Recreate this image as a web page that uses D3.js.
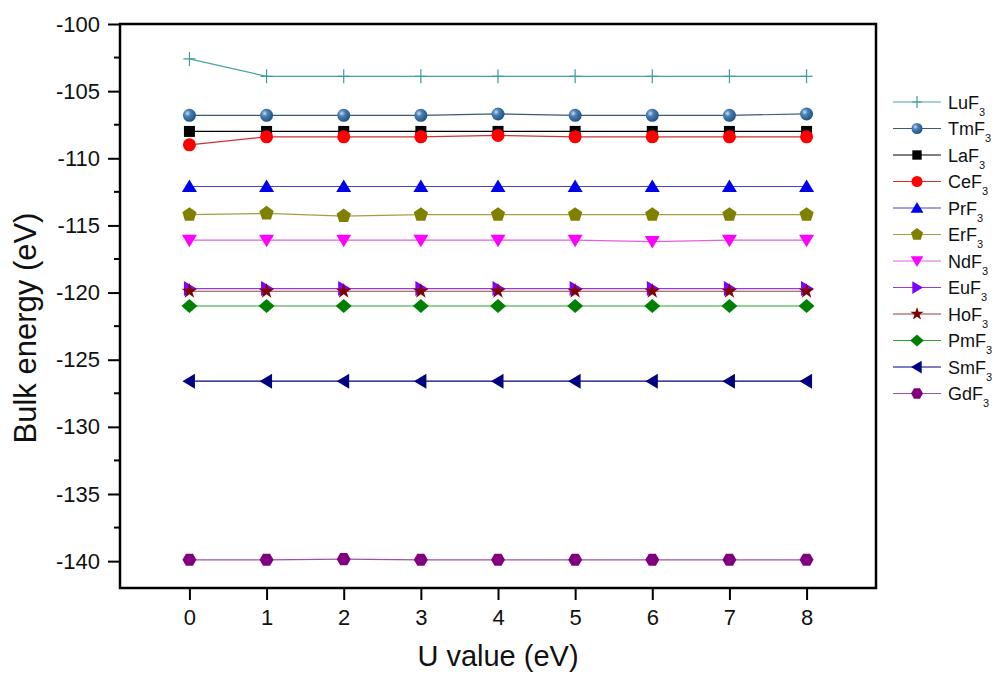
<!DOCTYPE html>
<html>
<head>
<meta charset="utf-8">
<script src="https://cdn.jsdelivr.net/npm/d3@7"></script>
<style>
  body { margin: 0; background: #fff; }
  svg text { font-family: "Liberation Sans", Arial, sans-serif; fill: #111; }
</style>
</head>
<body>
<div id="chart"></div>
<script>
// U values (x axis)
const uValues = [0, 1, 2, 3, 4, 5, 6, 7, 8];

// bulk energies (eV) per compound
const luF3 = [-102.6, -103.9, -103.9, -103.9, -103.9, -103.9, -103.9, -103.9, -103.9];
const tmF3 = [-106.8, -106.8, -106.8, -106.8, -106.7, -106.8, -106.8, -106.8, -106.7];
const laF3 = [-108.0, -108.0, -108.0, -108.0, -108.0, -108.0, -108.0, -108.0, -108.0];
const ceF3 = [-109.0, -108.4, -108.4, -108.4, -108.3, -108.4, -108.4, -108.4, -108.4];
const prF3 = [-112.1, -112.1, -112.1, -112.1, -112.1, -112.1, -112.1, -112.1, -112.1];
const erF3 = [-114.2, -114.1, -114.3, -114.2, -114.2, -114.2, -114.2, -114.2, -114.2];
const ndF3 = [-116.1, -116.1, -116.1, -116.1, -116.1, -116.1, -116.2, -116.1, -116.1];
const euF3 = [-119.7, -119.7, -119.7, -119.7, -119.7, -119.7, -119.7, -119.7, -119.7];
const hoF3 = [-119.9, -119.9, -119.9, -119.9, -119.9, -119.9, -119.9, -119.9, -119.9];
const pmF3 = [-121.0, -121.0, -121.0, -121.0, -121.0, -121.0, -121.0, -121.0, -121.0];
const smF3 = [-126.6, -126.6, -126.6, -126.6, -126.6, -126.6, -126.6, -126.6, -126.6];
const gdF3 = [-139.9, -139.9, -139.85, -139.9, -139.9, -139.9, -139.9, -139.9, -139.9];

const yTicks = [-140, -135, -130, -125, -120, -115, -110, -105, -100];
const yMinorTicks = [-137.5, -132.5, -127.5, -122.5, -117.5, -112.5, -107.5, -102.5];
const xTicks = [0, 1, 2, 3, 4, 5, 6, 7, 8];

// series order = legend order
const series = [
  { name: 'Lu', values: luF3, marker: 'plus',     fill: '#3f9c9c', line: '#4aa3a3' },
  { name: 'Tm', values: tmF3, marker: 'sphere',   fill: '#33669c', line: '#3d5a75' },
  { name: 'La', values: laF3, marker: 'square',   fill: '#000000', line: '#000000' },
  { name: 'Ce', values: ceF3, marker: 'circle',   fill: '#ff0000', line: '#d03030' },
  { name: 'Pr', values: prF3, marker: 'triUp',    fill: '#0000ee', line: '#4444c0' },
  { name: 'Er', values: erF3, marker: 'pentagon', fill: '#808000', line: '#a0a040' },
  { name: 'Nd', values: ndF3, marker: 'triDown',  fill: '#ff00ff', line: '#e060e0' },
  { name: 'Eu', values: euF3, marker: 'triRight', fill: '#8000ff', line: '#9040d0' },
  { name: 'Ho', values: hoF3, marker: 'star',     fill: '#800000', line: '#904040' },
  { name: 'Pm', values: pmF3, marker: 'diamond',  fill: '#008000', line: '#30a030' },
  { name: 'Sm', values: smF3, marker: 'triLeft',  fill: '#000080', line: '#000080' },
  { name: 'Gd', values: gdF3, marker: 'hexagon',  fill: '#800080', line: '#a050a0' }
];

const width = 996, height = 675;
const plot = { left: 120, top: 24, right: 876, bottom: 588 };

const svg = d3.select('#chart').append('svg')
  .attr('width', width)
  .attr('height', height);

const defs = svg.append('defs');
const grad = defs.append('radialGradient')
  .attr('id', 'sphereGrad')
  .attr('cx', '0.35').attr('cy', '0.35').attr('r', '0.7');
grad.append('stop').attr('offset', '0%').attr('stop-color', '#c8dcf0');
grad.append('stop').attr('offset', '35%').attr('stop-color', '#4a7fb5');
grad.append('stop').attr('offset', '100%').attr('stop-color', '#1f4f80');

const x = d3.scaleLinear().domain([-0.9, 8.9]).range([plot.left, plot.right]);
const y = d3.scaleLinear().domain([-142, -100]).range([plot.bottom, plot.top]);

// regular polygon path centred on 0,0
function polygon(n, r, rot) {
  const pts = d3.range(n).map(i => {
    const a = rot + i * 2 * Math.PI / n;
    return [r * Math.cos(a), r * Math.sin(a)];
  });
  return 'M' + pts.map(p => p[0].toFixed(2) + ',' + p[1].toFixed(2)).join('L') + 'Z';
}

function markerPath(kind, s) {
  switch (kind) {
    case 'square':   return `M${-5.5*s},${-5.5*s}h${11*s}v${11*s}h${-11*s}Z`;
    case 'triUp':    return `M0,${-7*s}L${7.5*s},${5.5*s}L${-7.5*s},${5.5*s}Z`;
    case 'triDown':  return `M0,${7*s}L${7.5*s},${-5.5*s}L${-7.5*s},${-5.5*s}Z`;
    case 'triRight': return `M${7*s},0L${-5.5*s},${7.5*s}L${-5.5*s},${-7.5*s}Z`;
    case 'triLeft':  return `M${-7*s},0L${5.5*s},${7.5*s}L${5.5*s},${-7.5*s}Z`;
    case 'diamond':  return `M0,${-7*s}L${8*s},0L0,${7*s}L${-8*s},0Z`;
    case 'pentagon': return polygon(5, 7.5 * s, -Math.PI / 2);
    case 'hexagon':  return polygon(6, 7 * s, 0);
    case 'star':     return d3.symbol().type(d3.symbolStar).size(75 * s * s)();
    case 'plus':     return `M${-6*s},0H${6*s}M0,${-7*s}V${7*s}`;
  }
  return '';
}

function drawMarker(g, d, s) {
  if (d.marker === 'circle' || d.marker === 'sphere') {
    g.append('circle')
      .attr('r', 6.5 * s)
      .attr('fill', d.marker === 'sphere' ? 'url(#sphereGrad)' : d.fill);
  } else if (d.marker === 'plus') {
    g.append('path')
      .attr('d', markerPath('plus', s))
      .attr('fill', 'none')
      .attr('stroke', d.fill)
      .attr('stroke-width', 1.2);
  } else {
    g.append('path')
      .attr('d', markerPath(d.marker, s))
      .attr('fill', d.fill);
  }
}

// axes (plain hyphen for negatives, like the original)
const yAxis = d3.axisLeft(y).tickValues(yTicks).tickSize(12).tickPadding(8)
  .tickFormat(d => String(d));
const xAxis = d3.axisBottom(x).tickValues(xTicks).tickSize(12).tickPadding(9);

const gy = svg.append('g')
  .attr('transform', `translate(${plot.left},0)`)
  .call(yAxis);
const gx = svg.append('g')
  .attr('transform', `translate(0,${plot.bottom})`)
  .call(xAxis);

[gx, gy].forEach(g => {
  g.select('.domain').remove();
  g.selectAll('.tick line').attr('stroke', '#000').attr('stroke-width', 2);
  g.selectAll('.tick text').attr('font-size', 22).attr('fill', '#111');
});

// minor y ticks
svg.append('g').selectAll('line')
  .data(yMinorTicks)
  .enter().append('line')
  .attr('x1', plot.left - 6).attr('x2', plot.left)
  .attr('y1', d => y(d)).attr('y2', d => y(d))
  .attr('stroke', '#000').attr('stroke-width', 2);

// frame
svg.append('rect')
  .attr('x', plot.left).attr('y', plot.top)
  .attr('width', plot.right - plot.left)
  .attr('height', plot.bottom - plot.top)
  .attr('fill', 'none')
  .attr('stroke', '#000')
  .attr('stroke-width', 2.5);

// series
const line = d3.line()
  .x((v, i) => x(uValues[i]))
  .y(v => y(v));

series.forEach(s => {
  svg.append('path')
    .datum(s.values)
    .attr('d', line)
    .attr('fill', 'none')
    .attr('stroke', s.line)
    .attr('stroke-width', 1.2);
});

series.forEach(s => {
  s.values.forEach((v, i) => {
    const g = svg.append('g')
      .attr('transform', `translate(${x(uValues[i])},${y(v)})`);
    drawMarker(g, s, 1);
  });
});

// legend
const legend = svg.append('g');
series.forEach((s, i) => {
  const ly = 102 + i * 26.5;
  const g = legend.append('g').attr('transform', `translate(0,${ly})`);
  g.append('line')
    .attr('x1', 893).attr('x2', 941)
    .attr('y1', 0).attr('y2', 0)
    .attr('stroke', s.line).attr('stroke-width', 1.2);
  const m = g.append('g').attr('transform', 'translate(917,0)');
  drawMarker(m, s, 0.85);
  const t = g.append('text')
    .attr('x', 948).attr('y', 6.5)
    .attr('font-size', 18);
  t.append('tspan').text(s.name + 'F');
  t.append('tspan').attr('font-size', 11).attr('dy', 7).text('3');
});

// axis titles
svg.append('text')
  .attr('x', (plot.left + plot.right) / 2)
  .attr('y', 666)
  .attr('text-anchor', 'middle')
  .attr('font-size', 29)
  .text('U value (eV)');

svg.append('text')
  .attr('transform', 'translate(36,328) rotate(-90)')
  .attr('text-anchor', 'middle')
  .attr('font-size', 31)
  .text('Bulk energy (eV)');
</script>
</body>
</html>
